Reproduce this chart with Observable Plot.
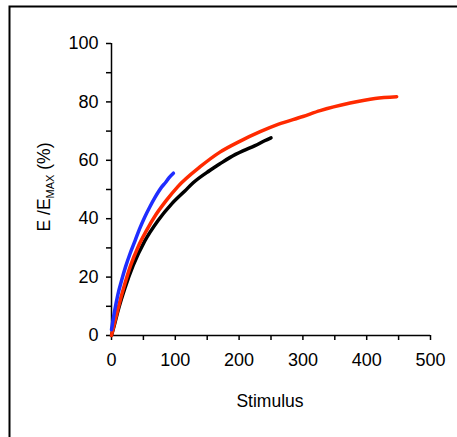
<!DOCTYPE html>
<html>
<head>
<meta charset="utf-8">
<script src="https://cdn.jsdelivr.net/npm/d3@7"></script>
<script src="https://cdn.jsdelivr.net/npm/@observablehq/plot@0.6"></script>
<style>
  html, body { margin: 0; padding: 0; background: #fff; }
  #chart svg { display: block; }
</style>
</head>
<body>
<div id="chart"></div>
<script>
// Response curves: effect (as % of maximum) against stimulus
const blueStimulus = [0, 5, 10, 16, 22, 29, 37, 44, 52, 60, 68, 78.5, 85, 90, 97];
const blueEffect   = [2, 8.5, 14, 19, 23.5, 28, 32.5, 36.5, 40.5, 44, 47.2, 50.8, 52.5, 54, 55.6];

const redStimulus = [0, 10, 20, 30, 42, 55, 70, 85, 104, 139, 170, 201, 233, 261, 300, 327, 374, 413, 447];
const redEffect   = [0, 9, 17, 24, 30.5, 36, 41.5, 46, 51, 57.8, 62.8, 66.5, 69.8, 72.3, 75, 77, 79.6, 81.2, 81.8];

const blackStimulus = [0, 5, 10, 21, 34, 52, 73, 94, 115, 128, 154, 170, 186, 206, 225, 240, 250];
const blackEffect   = [0, 4, 8.3, 16.2, 24, 32.3, 39.4, 45, 49.5, 52.3, 56.5, 58.8, 61, 63.2, 65, 66.7, 67.7];

const xTicks = [0, 100, 200, 300, 400, 500];
const xMinorTicks = [50, 150, 250, 350, 450];
const yTicks = [0, 20, 40, 60, 80, 100];
const yMinorTicks = [10, 30, 50, 70, 90];

const seriesColors = { blue: "#1f2dff", red: "#ff2a00", black: "#000000" };

const toRows = (xs, ys) => xs.map((x, i) => ({ x, y: ys[i] }));
const blueRows = toRows(blueStimulus, blueEffect);
const redRows = toRows(redStimulus, redEffect);
const blackRows = toRows(blackStimulus, blackEffect);

const font = "'Liberation Sans', Arial, sans-serif";

const chart = Plot.plot({
  width: 457,
  height: 437,
  marginLeft: 111,
  marginRight: 27,
  marginTop: 43,
  marginBottom: 102,
  style: { background: "#fff", fontFamily: font, fontSize: "18px", color: "#000" },
  x: { domain: [0, 500] },
  y: { domain: [0, 100] },
  marks: [
    Plot.axisX({ ticks: xTicks.concat(xMinorTicks), tickSize: 5, tickPadding: 13, strokeWidth: 1.5,
                 tickFormat: d => xTicks.includes(d) ? String(d) : "", label: null, fontSize: 18 }),
    Plot.axisY({ ticks: yTicks.concat(yMinorTicks), tickSize: 5, tickPadding: 8, strokeWidth: 1.5,
                 tickFormat: d => yTicks.includes(d) ? String(d) : "", label: null, fontSize: 18 }),
    Plot.ruleX([0], { y1: 0, y2: 100, stroke: "#000", strokeWidth: 1.5 }),
    Plot.ruleY([0], { x1: 0, x2: 500, stroke: "#000", strokeWidth: 1.5 }),
    Plot.line(blackRows, { x: "x", y: "y", stroke: seriesColors.black, strokeWidth: 3.5, curve: "monotone-x" }),
    Plot.line(redRows, { x: "x", y: "y", stroke: seriesColors.red, strokeWidth: 3.5, curve: "monotone-x" }),
    Plot.line(blueRows, { x: "x", y: "y", stroke: seriesColors.blue, strokeWidth: 3.5, curve: "monotone-x" })
  ]
});

const svg = d3.select(chart);

// Frame around the chart area
svg.insert("rect", ":first-child")
  .attr("x", 9.5).attr("y", 6.5)
  .attr("width", 520).attr("height", 520)
  .attr("fill", "none").attr("stroke", "#000").attr("stroke-width", 2);

// X axis title
svg.append("text")
  .attr("x", 270).attr("y", 407)
  .attr("text-anchor", "middle")
  .attr("font-family", font).attr("font-size", 17.5).attr("fill", "#000")
  .text("Stimulus");

// Y axis title with subscript
const yTitle = svg.append("text")
  .attr("transform", "translate(50,187) rotate(-90)")
  .attr("text-anchor", "middle")
  .attr("font-family", font).attr("font-size", 17.5).attr("fill", "#000");
yTitle.append("tspan").text("E /E");
yTitle.append("tspan").attr("font-size", 11).attr("dy", 4).text("MAX");
yTitle.append("tspan").attr("dy", -4).text(" (%)");

document.getElementById("chart").appendChild(chart);
</script>
</body>
</html>
